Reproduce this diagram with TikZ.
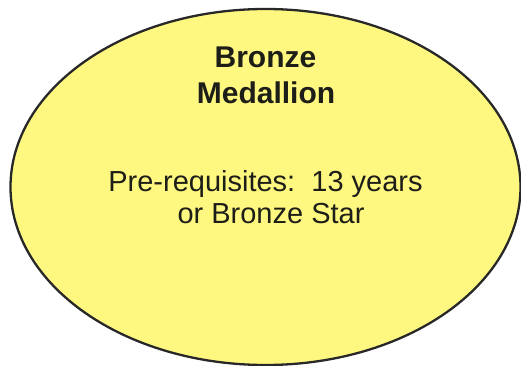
\documentclass[tikz,border=0pt]{standalone}
\usepackage{fontspec}
\setmainfont{Liberation Sans}
\usetikzlibrary{shapes.geometric}
\definecolor{fillyellow}{RGB}{255,248,128}
\definecolor{edgegrey}{RGB}{40,40,40}
\definecolor{textdark}{RGB}{30,30,25}
\begin{document}
\begin{tikzpicture}[x=1pt,y=-1pt,
  title/.style={anchor=base,inner sep=0pt,font=\fontsize{30}{36}\selectfont\bfseries,text=textdark},
  body/.style={anchor=base,inner sep=0pt,font=\fontsize{29}{32}\selectfont,text=textdark}]
\useasboundingbox (0,0) rectangle (521,366);
\node[draw=edgegrey,line width=2.3pt,fill=fillyellow,ellipse,minimum width=510pt,minimum height=356pt,inner sep=0pt] (oval) at (265.5,187) {};
\node[title] (t1) at (265.5,67.7) {Bronze};
\node[title] (t2) at (266,104) {Medallion};
\node[body] (b1) at (265.5,191.7) {Pre-requisites:\ \ 13 years};
\node[body] (b2) at (271,223.3) {or Bronze Star};
\end{tikzpicture}
\end{document}
